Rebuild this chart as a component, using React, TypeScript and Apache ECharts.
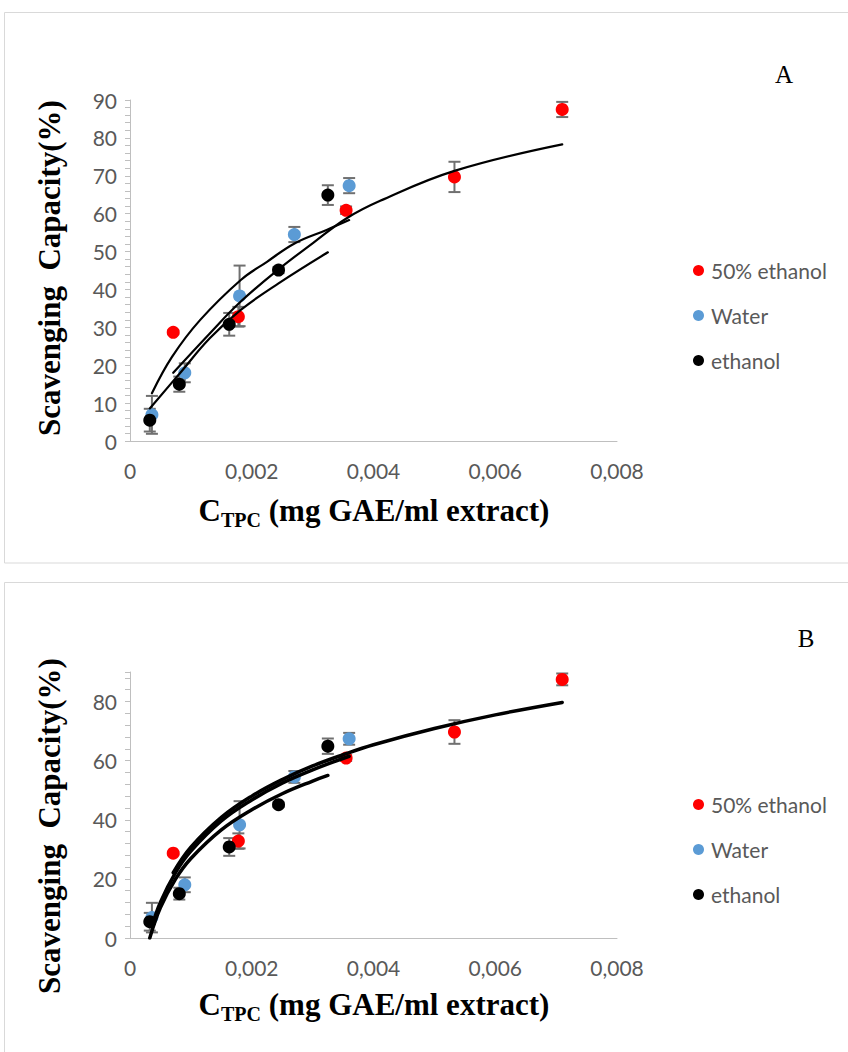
import React, { useEffect, useRef } from 'react';
import * as echarts from 'echarts';

// ---------- data ----------
const seriesNames = ['50% ethanol', 'Water', 'ethanol'];
const seriesColors = ['#FF0000', '#5B9BD5', '#000000'];
const xTickLabels = ['0', '0,002', '0,004', '0,006', '0,008'];

const ethanol50X = [0.00071, 0.00178, 0.00355, 0.00533, 0.0071];
const ethanol50Y = [28.7, 32.8, 60.9, 69.7, 87.5];
const ethanol50Err = [0.5, 2.6, 1, 4, 2];

const waterX = [0.00036, 0.0009, 0.0018, 0.0027, 0.0036];
const waterY = [6.9, 18.0, 38.3, 54.5, 67.4];
const waterErr = [5, 2.5, 8, 2, 2];

const ethanolX = [0.000325, 0.00081, 0.00163, 0.00244, 0.00325];
const ethanolY = [5.5, 15.0, 30.8, 45.1, 64.9];
const ethanolErr = [3, 2, 3, 0.8, 2.6];

// trend lines, panel A
const trendA50X = [0.00071, 0.00131, 0.00182, 0.00244, 0.00301, 0.00356, 0.00411, 0.00533, 0.0071];
const trendA50Y = [18, 28.4, 36.8, 45.3, 52.3, 58.8, 63.4, 71.3, 78.3];
const trendAWaterX = [0.00036, 0.00069, 0.00115, 0.00182, 0.00225, 0.00271, 0.00323, 0.0036];
const trendAWaterY = [12.6, 22.2, 31.9, 42.5, 47.3, 52.2, 55.7, 58.3];
const trendAEthX = [0.000325, 0.00082, 0.00131, 0.00182, 0.00244, 0.00325];
const trendAEthY = [8.6, 17.9, 27.1, 34.6, 41.6, 49.8];

// trend lines, panel B
const trendB50X = [0.00071, 0.001, 0.0015, 0.002, 0.0025, 0.003, 0.0035, 0.004, 0.005, 0.006, 0.0071];
const trendB50Y = [22.1, 30.7, 40.8, 48, 53.6, 58.2, 62, 65.4, 70.9, 75.5, 79.7];
const trendBWaterX = [0.00036, 0.0005, 0.00075, 0.001, 0.0015, 0.002, 0.0025, 0.003, 0.0036];
const trendBWaterY = [3.9, 12.1, 22.2, 29.4, 39.6, 46.7, 52.4, 56.9, 61.5];
const trendBEthX = [0.000325, 0.0005, 0.00075, 0.001, 0.0015, 0.002, 0.0025, 0.003, 0.00325];
const trendBEthY = [0, 10.3, 20, 26.9, 36.6, 43.4, 48.8, 53.1, 55];

// ---------- helpers ----------
const zip2 = (xs: number[], ys: number[]) => xs.map((x, i) => [x, ys[i]]);
const zip3 = (xs: number[], ys: number[], es: number[]) => xs.map((x, i) => [x, ys[i], es[i]]);

const TEXT = '#595959';
const AXIS = '#BFBFBF';
const SANS = 'Lato';
const SERIF = 'Liberation Serif';

function errorRender(params: any, api: any) {
  const x = api.value(0);
  const y = api.value(1);
  const e = api.value(2);
  const top = api.coord([x, y + e]);
  const bot = api.coord([x, y - e]);
  const w = 6;
  const style = { stroke: '#707070', lineWidth: 2 };
  return {
    type: 'group',
    children: [
      { type: 'line', shape: { x1: top[0], y1: top[1], x2: bot[0], y2: bot[1] }, style },
      { type: 'line', shape: { x1: top[0] - w, y1: top[1], x2: top[0] + w, y2: top[1] }, style },
      { type: 'line', shape: { x1: bot[0] - w, y1: bot[1], x2: bot[0] + w, y2: bot[1] }, style },
    ],
  };
}

function buildPanelSeries(idx: number, trends: number[][][], lineWidth: number) {
  const xs = [ethanol50X, waterX, ethanolX];
  const ys = [ethanol50Y, waterY, ethanolY];
  const es = [ethanol50Err, waterErr, ethanolErr];
  const out: any[] = [];
  for (let k = 0; k < 3; k++) {
    out.push({
      type: 'custom',
      name: 'err' + idx + k,
      xAxisIndex: idx,
      yAxisIndex: idx,
      renderItem: errorRender,
      encode: { x: 0, y: 1 },
      data: zip3(xs[k], ys[k], es[k]),
      z: 2,
      silent: true,
    });
  }
  for (let k = 0; k < 3; k++) {
    out.push({
      type: 'scatter',
      name: seriesNames[k],
      xAxisIndex: idx,
      yAxisIndex: idx,
      data: zip2(xs[k], ys[k]),
      symbol: 'circle',
      symbolSize: 13,
      itemStyle: { color: seriesColors[k], opacity: 1 },
      z: 3 + k,
    });
  }
  trends.forEach((t, k) => {
    out.push({
      type: 'line',
      name: 'trend' + idx + k,
      xAxisIndex: idx,
      yAxisIndex: idx,
      data: t,
      smooth: 0.4,
      showSymbol: false,
      symbol: 'none',
      lineStyle: { color: '#000', width: lineWidth, cap: 'round' },
      z: 10,
      silent: true,
    });
  });
  return out;
}

function xAxisCfg(gridIndex: number) {
  return {
    type: 'value',
    gridIndex,
    min: 0,
    max: 0.008,
    interval: 0.002,
    axisLine: { show: true, lineStyle: { color: AXIS, width: 1 } },
    axisTick: { show: false },
    splitLine: { show: false },
    axisLabel: {
      margin: 19,
      fontSize: 21,
      color: TEXT,
      fontFamily: SANS,
      formatter: (v: number) => xTickLabels[Math.round(v / 0.002)] ?? '',
    },
  };
}

function yAxisCfg(gridIndex: number, step: number, labelStep: number) {
  return {
    type: 'value',
    gridIndex,
    min: 0,
    max: 90,
    interval: step,
    axisLine: { show: true, lineStyle: { color: AXIS, width: 1 } },
    axisTick: { show: true, length: 5, lineStyle: { color: AXIS } },
    splitLine: { show: false },
    axisLabel: {
      margin: 13,
      fontSize: 21,
      color: TEXT,
      fontFamily: SANS,
      formatter: (v: number) => {
        const r = v / labelStep;
        return Math.abs(r - Math.round(r)) < 1e-6 ? String(Math.round(v)) : '';
      },
    },
  };
}

function legendCfg(top: number) {
  return {
    orient: 'vertical',
    left: 688,
    top,
    itemGap: 24,
    itemWidth: 11,
    itemHeight: 11,
    icon: 'circle',
    data: seriesNames,
    textStyle: { fontSize: 21, color: TEXT, fontFamily: SANS, lineHeight: 21, padding: [0, 0, 0, 2] },
    selectedMode: false,
  };
}

// x-axis title: "C" + subscript "TPC" + rest, laid out as three texts
function xTitle(y: number) {
  const cx = 374;
  const wC = 22.4;
  const wSub = 40;
  const wRest = 288.4;
  const x0 = cx - (wC + wSub + wRest) / 2;
  const main = { fontSize: 31, fontWeight: 'bold', fontFamily: SERIF, fill: '#000', verticalAlign: 'middle', align: 'left' };
  return {
    type: 'group',
    children: [
      { type: 'text', x: x0, y, style: { ...main, text: 'C' } },
      { type: 'text', x: x0 + wC, y: y + 9.5, style: { ...main, fontSize: 20, text: 'TPC' } },
      { type: 'text', x: x0 + wC + wSub, y, style: { ...main, text: '\u00A0(mg GAE/ml extract)' } },
    ],
  };
}

function yTitle(y: number) {
  return {
    type: 'text',
    x: 49,
    y,
    rotation: Math.PI / 2,
    style: {
      text: 'Scavenging \u00A0Capacity(%)',
      align: 'center',
      verticalAlign: 'middle',
      fill: '#000',
      fontSize: 31,
      fontWeight: 'bold',
      fontFamily: SERIF,
    },
  };
}

export default function App() {
  const ref = useRef<HTMLDivElement>(null);
  useEffect(() => {
    if (!ref.current) return;
    const chart = echarts.init(ref.current, undefined, { renderer: 'svg' });
    const option: any = {
      animation: false,
      backgroundColor: '#FFFFFF',
      grid: [
        { left: 130, top: 100, width: 487, height: 341 },
        { left: 130, top: 672, width: 487, height: 266 },
      ],
      xAxis: [xAxisCfg(0), xAxisCfg(1)],
      yAxis: [yAxisCfg(0, 2, 10), yAxisCfg(1, 4, 20)],
      legend: [legendCfg(255), legendCfg(789)],
      series: [
        ...buildPanelSeries(0, [zip2(trendA50X, trendA50Y), zip2(trendAWaterX, trendAWaterY), zip2(trendAEthX, trendAEthY)], 2.2),
        ...buildPanelSeries(1, [zip2(trendB50X, trendB50Y), zip2(trendBWaterX, trendBWaterY), zip2(trendBEthX, trendBEthY)], 3.5),
      ],
      graphic: [
        { type: 'rect', shape: { x: 4.5, y: 12.5, width: 900, height: 550.5 }, style: { fill: 'none', stroke: '#D9D9D9', lineWidth: 1 }, z: -1 },
        { type: 'rect', shape: { x: 4.5, y: 582.5, width: 900, height: 520 }, style: { fill: 'none', stroke: '#D9D9D9', lineWidth: 1 }, z: -1 },
        { type: 'text', x: 784, y: 74, style: { text: 'A', align: 'center', verticalAlign: 'middle', fontSize: 25, fontFamily: SERIF, fill: '#000' } },
        { type: 'text', x: 806, y: 638, style: { text: 'B', align: 'center', verticalAlign: 'middle', fontSize: 25, fontFamily: SERIF, fill: '#000' } },
        yTitle(268),
        yTitle(826),
        xTitle(510),
        xTitle(1004),
      ],
    };
    chart.setOption(option);
    return () => chart.dispose();
  }, []);
  return <div ref={ref} style={{ position: 'absolute', left: 0, top: 0, width: 848, height: 1052 }} />;
}
